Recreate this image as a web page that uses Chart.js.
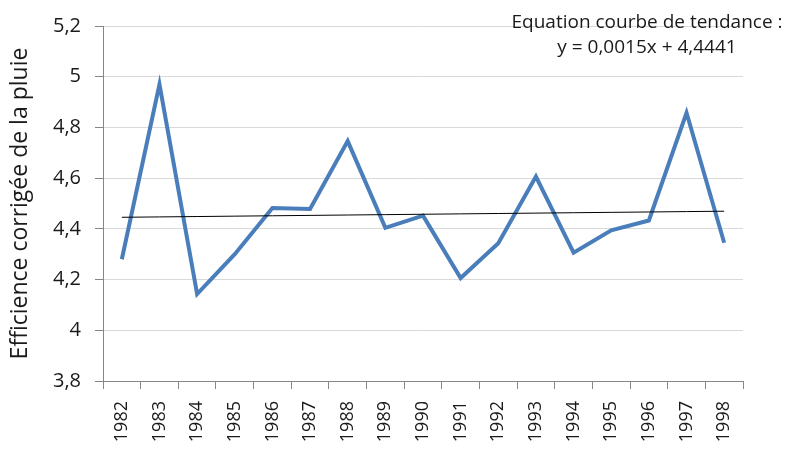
<!DOCTYPE html>
<html>
<head>
<meta charset="utf-8">
<script src="https://cdn.jsdelivr.net/npm/chart.js@4/dist/chart.umd.min.js"></script>
<style>
  html, body { margin: 0; padding: 0; background: #ffffff; }
  #wrap { width: 785px; height: 457px; position: relative; }
</style>
</head>
<body>
<div id="wrap"><canvas id="c" width="785" height="457"></canvas></div>
<script>
// Années observées
const years = ['1982','1983','1984','1985','1986','1987','1988','1989','1990',
               '1991','1992','1993','1994','1995','1996','1997','1998'];
// Efficience corrigée de la pluie, par année
const efficience = [4.28, 4.97, 4.143, 4.30, 4.482, 4.478, 4.746, 4.404, 4.452,
                    4.206, 4.343, 4.606, 4.306, 4.394, 4.433, 4.858, 4.345];
// Courbe de tendance linéaire : y = a·x + b (x = rang de l'année, 1..n)
const trendSlope = 0.0015;
const trendIntercept = 4.4441;
const trendLabel = ['Equation courbe de tendance :', 'y = 0,0015x + 4,4441'];
const yTitle = 'Efficience corrigée de la pluie';

const trend = years.map((_, i) => trendSlope * (i + 1) + trendIntercept);

const FONT = 'Open Sans';
const AXIS = '#868686';
const GRID = '#d9d9d9';

const equationText = {
  id: 'equationText',
  afterDraw(chart) {
    const ctx = chart.ctx;
    ctx.save();
    ctx.fillStyle = '#1a1a1a';
    ctx.font = '19px "' + FONT + '"';
    ctx.textAlign = 'center';
    ctx.textBaseline = 'alphabetic';
    ctx.fillText(trendLabel[0], 647, 28);
    ctx.fillText(trendLabel[1], 647, 53);
    ctx.restore();
  }
};

new Chart(document.getElementById('c'), {
  type: 'line',
  data: {
    labels: years,
    datasets: [
      {
        data: efficience,
        borderColor: '#4a7ebb',
        borderWidth: 4,
        pointRadius: 0,
        tension: 0,
        borderJoinStyle: 'miter',
        order: 2
      },
      {
        data: trend,
        borderColor: '#000000',
        borderWidth: 1,
        pointRadius: 0,
        tension: 0,
        order: 1
      }
    ]
  },
  options: {
    responsive: false,
    animation: false,
    devicePixelRatio: 1,
    layout: { padding: { top: 21, right: 42, left: 0, bottom: 0 } },
    plugins: { legend: { display: false }, tooltip: { enabled: false } },
    scales: {
      x: {
        offset: true,
        grid: {
          offset: true,
          drawOnChartArea: false,
          drawTicks: true,
          tickLength: 8,
          color: AXIS
        },
        border: { color: AXIS, width: 1 },
        ticks: {
          minRotation: 90,
          maxRotation: 90,
          autoSkip: false,
          padding: 12,
          color: '#1a1a1a',
          font: { family: FONT, size: 18 }
        },
        afterFit(scale) { scale.height = 76; }
      },
      y: {
        min: 3.8,
        max: 5.2,
        grid: {
          color: (c) => (c.tick && c.tick.value === 3.8) ? AXIS : GRID,
          tickColor: AXIS,
          tickLength: 8,
          lineWidth: 1
        },
        border: { color: AXIS, width: 1 },
        ticks: {
          stepSize: 0.2,
          padding: 14,
          color: '#1a1a1a',
          font: { family: FONT, size: 20 },
          callback: (v) => String(Number(v.toFixed(1))).replace('.', ',')
        },
        title: {
          display: true,
          text: yTitle,
          color: '#1a1a1a',
          font: { family: FONT, size: 23 },
          padding: { top: 7, bottom: 0 }
        },
        afterFit(scale) { scale.width = 103; }
      }
    }
  },
  plugins: [equationText]
});
</script>
</body>
</html>
